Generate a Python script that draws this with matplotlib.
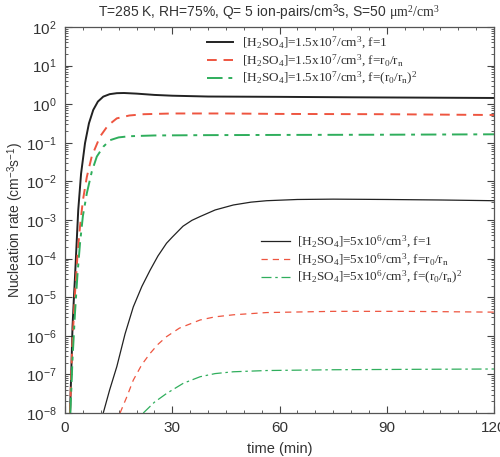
import matplotlib
matplotlib.use("Agg")
import matplotlib.pyplot as plt
from matplotlib.ticker import LogLocator, MultipleLocator, NullFormatter

plt.rcParams['font.family'] = ['Liberation Sans', 'DejaVu Sans']
plt.rcParams['mathtext.fontset'] = 'custom'
plt.rcParams['mathtext.rm'] = 'Liberation Serif'
plt.rcParams['mathtext.it'] = 'Liberation Serif:italic'
plt.rcParams['mathtext.bf'] = 'Liberation Serif:bold'
plt.rcParams['mathtext.sf'] = 'Liberation Sans'

# ---- data: [H2SO4]=1.5e7 /cm3 ----
t_hi_f1 = [1.4, 1.8, 2.1, 2.5, 2.8, 3.2, 3.7, 4.5, 5.6, 6.7, 7.9, 9.2, 10.7, 12.5, 14.5, 16.5, 20, 25, 30, 40, 60, 80, 100, 120]
J_hi_f1 = [1e-8, 1.6e-7, 1.7e-6, 1e-5, 3.4e-5, 2e-4, 1.8e-3, 1.6e-2, 9.8e-2, 0.32, 0.71, 1.17, 1.57, 1.82, 1.93, 1.95, 1.88, 1.74, 1.66, 1.58, 1.55, 1.51, 1.48, 1.45]

t_hi_f2 = [1.4, 2.0, 2.8, 3.5, 4.2, 5.0, 6.1, 7.5, 9.8, 12, 14.5, 18, 22, 30, 45, 60, 90, 120]
J_hi_f2 = [1e-8, 5e-7, 1.26e-5, 1.26e-4, 6.8e-4, 3.2e-3, 1.3e-2, 4.5e-2, 0.145, 0.28, 0.43, 0.51, 0.55, 0.575, 0.575, 0.56, 0.55, 0.525]

t_hi_f3 = [1.5, 2.1, 2.8, 3.5, 4.2, 5.0, 6.1, 7.5, 8.9, 10.7, 12.6, 15, 18, 25, 40, 60, 90, 120]
J_hi_f3 = [1e-8, 2.5e-7, 4e-6, 4e-5, 2.5e-4, 1.26e-3, 4.9e-3, 1.8e-2, 4.4e-2, 7.9e-2, 0.117, 0.138, 0.148, 0.155, 0.158, 0.16, 0.162, 0.166]

# ---- data: [H2SO4]=5e6 /cm3 ----
t_lo_f1 = [10.7, 12.5, 14.5, 16.8, 19.1, 21.5, 23.8, 26, 28.4, 30, 33, 35.5, 37.8, 42, 47.1, 52, 56.4, 65, 75, 90, 105, 120]
J_lo_f1 = [1e-8, 4e-8, 1.6e-7, 1.12e-6, 5.6e-6, 1.9e-5, 5e-5, 1.17e-4, 2.5e-4, 3.6e-4, 6.9e-4, 9.8e-4, 1.23e-3, 1.82e-3, 2.45e-3, 2.9e-3, 3.16e-3, 3.4e-3, 3.47e-3, 3.4e-3, 3.3e-3, 3.16e-3]

t_lo_f2 = [15.4, 17.2, 19.1, 21.5, 23.8, 26, 28.4, 32, 37.8, 42, 47.1, 56.4, 75, 95, 120]
J_lo_f2 = [1e-8, 2.5e-8, 7.1e-8, 1.8e-7, 3.5e-7, 6e-7, 9.5e-7, 1.58e-6, 2.57e-6, 3.1e-6, 3.5e-6, 4e-6, 4.3e-6, 4.3e-6, 4.1e-6]

t_lo_f3 = [21.9, 25, 28.4, 33.1, 37.8, 42, 47.1, 56.4, 75, 95, 120]
J_lo_f3 = [1e-8, 1.9e-8, 3.2e-8, 5.9e-8, 8.7e-8, 1.05e-7, 1.17e-7, 1.26e-7, 1.32e-7, 1.35e-7, 1.38e-7]

labels_hi = [r'[H$_\mathdefault{2}$SO$_\mathdefault{4}$]=1.5x10$^\mathdefault{7}$/cm$^\mathdefault{3}$, f=1',
             r'[H$_\mathdefault{2}$SO$_\mathdefault{4}$]=1.5x10$^\mathdefault{7}$/cm$^\mathdefault{3}$, f=r$_\mathdefault{0}$/r$_\mathdefault{n}$',
             r'[H$_\mathdefault{2}$SO$_\mathdefault{4}$]=1.5x10$^\mathdefault{7}$/cm$^\mathdefault{3}$, f=(r$_\mathdefault{0}$/r$_\mathdefault{n}$)$^\mathdefault{2}$']
labels_lo = [r'[H$_\mathdefault{2}$SO$_\mathdefault{4}$]=5x10$^\mathdefault{6}$/cm$^\mathdefault{3}$, f=1',
             r'[H$_\mathdefault{2}$SO$_\mathdefault{4}$]=5x10$^\mathdefault{6}$/cm$^\mathdefault{3}$, f=r$_\mathdefault{0}$/r$_\mathdefault{n}$',
             r'[H$_\mathdefault{2}$SO$_\mathdefault{4}$]=5x10$^\mathdefault{6}$/cm$^\mathdefault{3}$, f=(r$_\mathdefault{0}$/r$_\mathdefault{n}$)$^\mathdefault{2}$']

black = '#222222'
red = '#ee5540'
green = '#2fae5c'

fig = plt.figure(figsize=(5.0, 4.57), dpi=100)
ax = fig.add_axes([65/500, 1-413/457, (494-65)/500, (413-27)/457])

h1, = ax.plot(t_hi_f1, J_hi_f1, color=black, lw=1.4, ls='-')
h2, = ax.plot(t_hi_f2, J_hi_f2, color=red, lw=1.4, ls=(0, (5, 3.5)))
h3, = ax.plot(t_hi_f3, J_hi_f3, color=green, lw=1.4, ls=(0, (8, 3, 2, 3)))
l1, = ax.plot(t_lo_f1, J_lo_f1, color=black, lw=0.9, ls='-')
l2, = ax.plot(t_lo_f2, J_lo_f2, color=red, lw=0.9, ls=(0, (5, 4)))
l3, = ax.plot(t_lo_f3, J_lo_f3, color=green, lw=0.9, ls=(0, (8, 3, 2, 3)))

ax.set_yscale('log')
ax.set_xlim(0, 120)
ax.set_ylim(1e-8, 1e2)
ax.xaxis.set_major_locator(MultipleLocator(30))
ax.xaxis.set_minor_locator(MultipleLocator(5))
ax.yaxis.set_major_locator(LogLocator(base=10, numticks=20))
ax.yaxis.set_minor_locator(LogLocator(base=10, subs=range(2, 10), numticks=20))
ax.yaxis.set_minor_formatter(NullFormatter())
ax.tick_params(which='both', direction='in', top=True, right=True, colors='#444444',
               labelcolor='#333333', labelsize=11)
ax.tick_params(which='major', length=5, width=0.8)
ax.tick_params(which='minor', length=2.5, width=0.6)
ax.tick_params(axis='x', pad=6)
ax.tick_params(axis='y', pad=6)
for s in ax.spines.values():
    s.set_color('#555555')
    s.set_linewidth(0.9)

ax.set_xlabel('time (min)', fontsize=10.5, color='#333333', labelpad=5)
ax.set_ylabel(r'Nucleation rate (cm$^\mathdefault{-3}$s$^\mathdefault{-1}$)', fontsize=10,
              color='#333333', labelpad=0)
ax.set_title(r'T=285 K, RH=75%, Q= 5 ion-pairs/cm$^\mathdefault{3}$s, S=50 $\mathrm{\mu m^2/cm^3}$',
             fontsize=10, color='#333333', pad=7, x=0.475)

lprops = {'family': 'Liberation Serif', 'size': 9.5}
leg1 = ax.legend([h1, h2, h3], labels_hi, loc='upper left', frameon=False, prop=lprops,
                 bbox_to_anchor=(207/500, 1-35/457), bbox_transform=fig.transFigure,
                 borderpad=0, borderaxespad=0, handlelength=2.0, handletextpad=0.65,
                 labelspacing=0.12, labelcolor='#333333')
ax.add_artist(leg1)
leg2 = ax.legend([l1, l2, l3], labels_lo, loc='upper left', frameon=False, prop=lprops,
                 bbox_to_anchor=(261/500, 1-234/457), bbox_transform=fig.transFigure,
                 borderpad=0, borderaxespad=0, handlelength=2.2, handletextpad=0.55,
                 labelspacing=0.12, labelcolor='#333333')

fig.savefig('out.png', dpi=100)
